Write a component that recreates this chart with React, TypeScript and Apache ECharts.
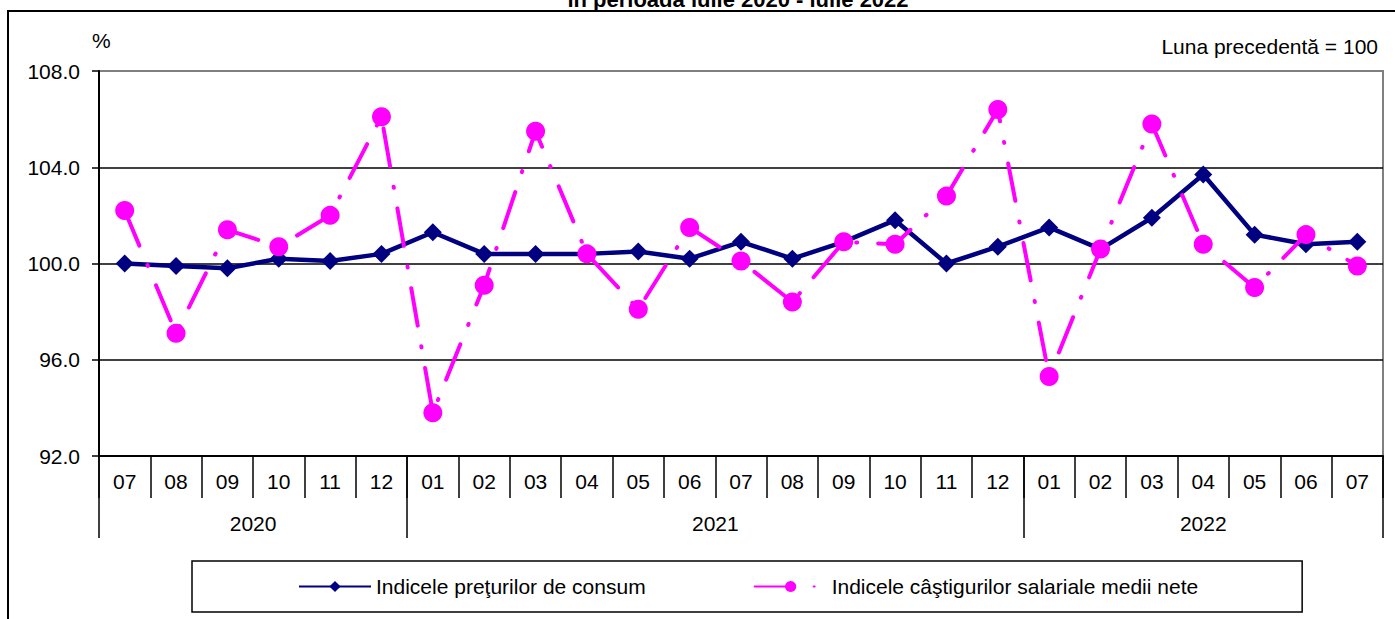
import React, { useEffect, useRef } from "react";
import * as echarts from "echarts";

const months = ["07","08","09","10","11","12","01","02","03","04","05","06","07","08","09","10","11","12","01","02","03","04","05","06","07"];
const years = ["2020", "2021", "2022"];
const monthsPerYear = [6, 12, 7];
const cpi = [100.0, 99.9, 99.8, 100.2, 100.1, 100.4, 101.3, 100.4, 100.4, 100.4, 100.5, 100.2, 100.9, 100.2, 100.9, 101.8, 100.0, 100.7, 101.5, 100.6, 101.9, 103.7, 101.2, 100.8, 100.9];
const wages = [102.2, 97.1, 101.4, 100.7, 102.0, 106.1, 93.8, 99.1, 105.5, 100.4, 98.1, 101.5, 100.1, 98.4, 100.9, 100.8, 102.8, 106.4, 95.3, 100.6, 105.8, 100.8, 99.0, 101.2, 99.9];
const yTicks = { min: 92, max: 108, interval: 4 };
const seriesNames = ["Indicele preţurilor de consum", "Indicele câştigurilor salariale medii nete"];
const titleText = "în perioada iulie 2020 - iulie 2022";
const unitText = "%";
const baseText = "Luna precedentă = 100";

const FONT = "'Liberation Sans', Arial, sans-serif";
const FS = 21;

export default function App() {
  const ref = useRef<HTMLDivElement>(null);
  useEffect(() => {
    if (!ref.current) return;
    const chart = echarts.init(ref.current, undefined, { renderer: "svg" });

    // half-month positions for the year axis (boundaryGap false, 2 slots per month)
    const total = monthsPerYear.reduce((a, b) => a + b, 0);
    const yearAxisData: string[] = new Array(total * 2 + 1).fill("");
    const yearBounds: number[] = [0];
    let start = 0;
    years.forEach((y, i) => {
      yearAxisData[start * 2 + monthsPerYear[i]] = y;
      start += monthsPerYear[i];
      yearBounds.push(start * 2);
    });

    chart.setOption({
      animation: false,
      textStyle: { fontFamily: FONT },
      grid: {
        left: 99, right: 12, top: 71, bottom: 163,
        show: true, borderColor: "#808080", borderWidth: 2, backgroundColor: "#fff",
      },
      graphic: [
        {
          type: "rect", z: -10, silent: true,
          shape: { x: 8, y: 11, width: 1400, height: 700 },
          style: { fill: "none", stroke: "#000", lineWidth: 2 },
        },
        {
          type: "text", x: 738, y: 10,
          style: {
            text: titleText, font: `bold 22px ${FONT}`, fill: "#000",
            align: "center", verticalAlign: "bottom",
          },
        },
        {
          type: "text", x: 1378, y: 46,
          style: {
            text: baseText, font: `${FS}px ${FONT}`, fill: "#000",
            align: "right", verticalAlign: "middle",
          },
        },
      ],
      legend: {
        left: 192, top: 561,
        itemWidth: 72, itemHeight: 14, itemGap: 108,
        padding: [15, 104, 15, 106],
        borderColor: "#000", borderWidth: 1.5,
        textStyle: { fontSize: FS, fontFamily: FONT, color: "#000" },
        data: seriesNames,
      },
      xAxis: [
        {
          type: "category", data: months, boundaryGap: true, position: "bottom",
          axisLine: { show: true, lineStyle: { color: "#000", width: 2 } },
          axisTick: { show: true, interval: 0, length: 42, lineStyle: { color: "#000", width: 1.5 } },
          axisLabel: { interval: 0, margin: 15, fontSize: FS, fontFamily: FONT, color: "#000" },
          splitLine: { show: false },
        },
        {
          type: "category", data: yearAxisData, boundaryGap: false, position: "bottom",
          axisLine: { show: false },
          axisTick: {
            show: true, length: 82, lineStyle: { color: "#000", width: 1.5 },
            interval: (idx: number) => yearBounds.includes(idx),
          },
          axisLabel: { interval: 0, margin: 57, fontSize: FS, fontFamily: FONT, color: "#000" },
          splitLine: { show: false },
        },
      ],
      yAxis: {
        type: "value", min: yTicks.min, max: yTicks.max, interval: yTicks.interval,
        name: unitText, nameLocation: "end", nameGap: 20,
        nameTextStyle: { fontSize: FS, fontFamily: FONT, color: "#000", align: "left", padding: [0, 0, 0, -7] },
        axisLine: { show: true, lineStyle: { color: "#000", width: 2 } },
        axisTick: { show: true, length: 7, lineStyle: { color: "#000", width: 1.5 } },
        axisLabel: { margin: 19, fontSize: FS, fontFamily: FONT, color: "#000", formatter: (v: number) => v.toFixed(1) },
        splitLine: { show: true, lineStyle: { color: ["#000", "#000", "#000", "#000", "#808080"], width: 1.5 } },
      },
      series: [
        {
          name: seriesNames[0], type: "line", data: cpi, xAxisIndex: 0,
          symbol: "diamond", symbolSize: [18, 18], z: 3,
          lineStyle: { color: "#000080", width: 4.5 },
          itemStyle: { color: "#000080" },
        },
        {
          name: seriesNames[1], type: "line", data: wages, xAxisIndex: 0,
          symbol: "circle", symbolSize: 19, z: 4,
          lineStyle: { color: "#FF00FF", width: 4, type: [38, 21, 1, 21], cap: "round" },
          itemStyle: { color: "#FF00FF" },
        },
      ],
    });
    return () => chart.dispose();
  }, []);
  return <div ref={ref} style={{ position: "absolute", left: 0, top: 0, width: 1395, height: 619 }} />;
}
